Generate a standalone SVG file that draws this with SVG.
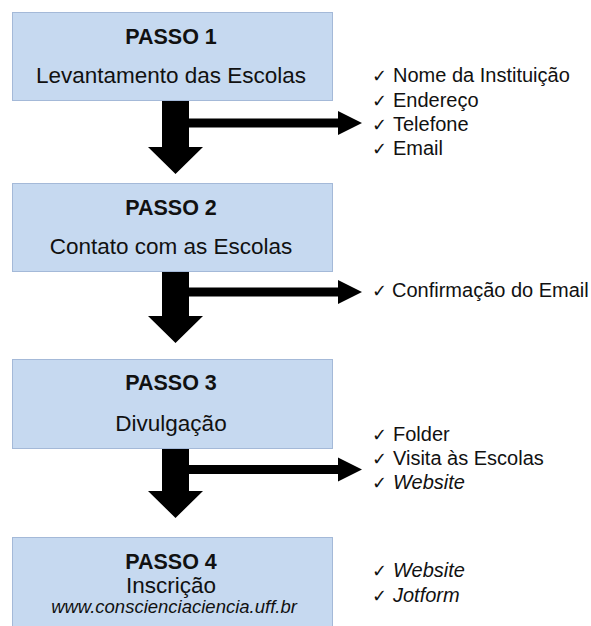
<svg xmlns="http://www.w3.org/2000/svg" width="591" height="626" viewBox="0 0 591 626">
  <style>
    .box { fill: #c6d9f0; stroke: #a4b9d8; stroke-width: 1; }
    .title { font-family: "Liberation Sans", Arial, sans-serif; font-size: 21.5px; font-weight: bold; fill: #111; text-anchor: middle; }
    .sub { font-family: "Liberation Sans", Arial, sans-serif; font-size: 22.5px; fill: #111; text-anchor: middle; }
    .url { font-family: "Liberation Sans", Arial, sans-serif; font-size: 18.5px; font-style: italic; fill: #111; text-anchor: middle; }
    .item { font-family: "Liberation Sans", Arial, sans-serif; font-size: 20px; fill: #111; }
    .chk { font-family: "DejaVu Sans", sans-serif; font-size: 18px; fill: #111; }
    .it { font-style: italic; }
    .arrow { fill: #000; }
  </style>
  <rect width="591" height="626" fill="#ffffff"/>

  <g id="passo1">
    <rect class="box" x="12.5" y="12.5" width="320" height="88"/>
    <text class="title" x="171" y="44">PASSO 1</text>
    <text class="sub" x="171" y="83">Levantamento das Escolas</text>
  </g>
  <g id="passo2">
    <rect class="box" x="12.5" y="183.5" width="320" height="88"/>
    <text class="title" x="171" y="215">PASSO 2</text>
    <text class="sub" x="171" y="254">Contato com as Escolas</text>
  </g>
  <g id="passo3">
    <rect class="box" x="12.5" y="359.5" width="320" height="89"/>
    <text class="title" x="171" y="390">PASSO 3</text>
    <text class="sub" x="171" y="431">Divulgação</text>
  </g>
  <g id="passo4">
    <rect class="box" x="12.5" y="537.5" width="320" height="100"/>
    <text class="title" x="171" y="569">PASSO 4</text>
    <text class="sub" x="171" y="593">Inscrição</text>
    <text class="url" x="174" y="613">www.conscienciaciencia.uff.br</text>
  </g>

  <g id="lista1">
    <text class="item" y="82"><tspan class="chk" x="372">✓</tspan><tspan x="393">Nome da Instituição</tspan></text>
    <text class="item" y="107"><tspan class="chk" x="372">✓</tspan><tspan x="393">Endereço</tspan></text>
    <text class="item" y="131"><tspan class="chk" x="372">✓</tspan><tspan x="393">Telefone</tspan></text>
    <text class="item" y="155"><tspan class="chk" x="372">✓</tspan><tspan x="393">Email</tspan></text>
  </g>
  <g id="lista2">
    <text class="item" y="297"><tspan class="chk" x="372">✓</tspan><tspan x="392">Confirmação do Email</tspan></text>
  </g>
  <g id="lista3">
    <text class="item" y="441"><tspan class="chk" x="372">✓</tspan><tspan x="393">Folder</tspan></text>
    <text class="item" y="465"><tspan class="chk" x="372">✓</tspan><tspan x="393">Visita às Escolas</tspan></text>
    <text class="item" y="489"><tspan class="chk" x="372">✓</tspan><tspan x="393" class="it">Website</tspan></text>
  </g>
  <g id="lista4">
    <text class="item" y="577"><tspan class="chk" x="372">✓</tspan><tspan x="393" class="it">Website</tspan></text>
    <text class="item" y="602"><tspan class="chk" x="372">✓</tspan><tspan x="393" class="it">Jotform</tspan></text>
  </g>

  <g id="connectors">
    <!-- arrow 1 -->
    <path class="arrow" d="M162,101 H189 V147 H203 L175.5,174 L148,147 H162 Z"/>
    <path class="arrow" d="M189,118.5 H338 V111 L362,123 L338,135 V127.5 H189 Z"/>
    <!-- arrow 2 -->
    <path class="arrow" d="M162,272 H189 V316 H203 L175.5,343 L148,316 H162 Z"/>
    <path class="arrow" d="M189,287.5 H338 V280 L362,292 L338,304 V296.5 H189 Z"/>
    <!-- arrow 3 -->
    <path class="arrow" d="M162,449 H189 V491 H203 L175.5,518 L148,491 H162 Z"/>
    <path class="arrow" d="M189,465 H338 V457.5 L362,469.5 L338,481.5 V474 H189 Z"/>
  </g>
</svg>
